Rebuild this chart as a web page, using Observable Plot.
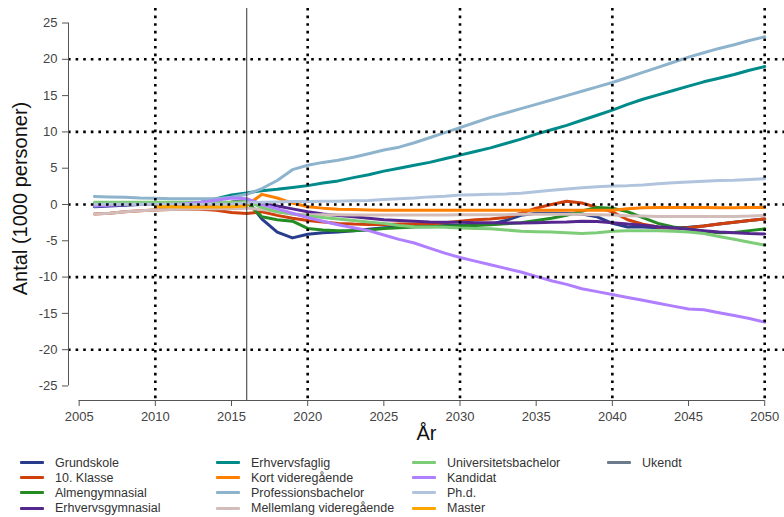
<!DOCTYPE html>
<html><head><meta charset="utf-8">
<script src="https://cdn.jsdelivr.net/npm/d3@7"></script>
<script src="https://cdn.jsdelivr.net/npm/@observablehq/plot@0.6"></script>
<style>
body{margin:0;background:#fff;font-family:"Liberation Sans",Arial,sans-serif;}
#wrap{position:relative;width:784px;height:517px;overflow:hidden;}
#chart{position:absolute;left:0;top:0;}
#legend{position:absolute;left:20px;top:455px;display:grid;grid-template-columns:196px 196px 195px 170px;grid-auto-flow:column;grid-template-rows:repeat(4,15.2px);}
.item{display:flex;align-items:center;font-size:12.5px;color:#333;height:15.2px;white-space:nowrap;}
.sw{width:24px;height:3px;margin-right:11px;border-radius:1px;}
</style></head><body>
<div id="wrap"><div id="chart"></div><div id="legend"></div></div>
<script>
const years = [2006,2007,2008,2009,2010,2011,2012,2013,2014,2015,2016,
  2017,2018,2019,2020,2021,2022,2023,2024,2025,2026,2027,2028,2029,2030,2031,2032,2033,
  2034,2035,2036,2037,2038,2039,2040,2041,2042,2043,2044,2045,2046,2047,2048,2049,2050];

const seriesNames = ["Grundskole","10. Klasse","Almengymnasial","Erhvervsgymnasial","Erhvervsfaglig",
  "Kort videregående","Professionsbachelor","Mellemlang videregående","Universitetsbachelor",
  "Kandidat","Ph.d.","Master","Ukendt"];
const seriesColors = ["#283C8C","#D0400B","#238B23","#54278F","#008B8B","#FF8000","#8DB4CC",
  "#D2BDBA","#7DCD78","#B07FFF","#B0C4DE","#FFA500","#6C7B8B"];

const grundskole = [-0.3,-0.2,-0.1,0.0,0.0,0.0,0.0,0.0,0.1,0.3,0.6,
  -2.0,-3.8,-4.6,-4.1,-3.9,-3.8,-3.6,-3.4,-3.2,-3.1,-3.0,-3.0,-2.9,-2.9,-2.8,-2.7,-2.2,
  -1.5,-1.2,-1.2,-1.25,-1.3,-1.7,-2.6,-3.1,-3.1,-3.2,-3.25,-3.15,-2.95,-2.7,-2.45,-2.2,-2.0];
const klasse10 = [-1.3,-1.2,-1.0,-0.85,-0.75,-0.7,-0.65,-0.65,-0.8,-1.1,-1.25,
  -1.0,-1.5,-1.9,-2.2,-2.4,-2.6,-2.7,-2.75,-2.75,-2.7,-2.7,-2.65,-2.5,-2.3,-2.1,-2.0,-1.8,
  -1.2,-0.5,0.0,0.45,0.2,-0.4,-1.0,-2.1,-2.7,-3.1,-3.25,-3.2,-2.95,-2.7,-2.45,-2.2,-2.0];
const almengym = [0.2,0.2,0.2,0.2,0.2,0.2,0.2,0.2,0.2,0.2,0.3,
  -1.7,-2.1,-2.3,-3.3,-3.5,-3.6,-3.6,-3.5,-3.3,-3.2,-3.1,-3.05,-3.0,-2.95,-2.9,-2.8,-2.65,
  -2.5,-2.2,-1.9,-1.5,-0.9,-0.4,-0.5,-1.0,-1.8,-2.6,-3.1,-3.4,-3.7,-3.9,-3.85,-3.6,-3.35];
const erhvervsgym = [-0.2,-0.1,0.0,0.0,0.0,0.0,0.0,0.0,0.1,0.3,0.5,
  0.2,-0.2,-0.6,-1.0,-1.3,-1.5,-1.7,-1.9,-2.1,-2.2,-2.3,-2.4,-2.45,-2.45,-2.5,-2.5,-2.55,
  -2.55,-2.5,-2.45,-2.4,-2.3,-2.35,-2.5,-2.7,-2.85,-3.05,-3.2,-3.4,-3.6,-3.8,-3.9,-4.0,-4.05];
const erhvervsfaglig = [-0.2,0.0,0.1,0.1,0.1,0.1,0.1,0.3,0.8,1.3,1.6,
  1.9,2.1,2.35,2.6,2.95,3.25,3.7,4.1,4.6,5.0,5.4,5.8,6.3,6.8,7.3,7.8,8.4,
  9.0,9.7,10.3,10.9,11.6,12.3,13.0,13.8,14.5,15.1,15.7,16.3,16.9,17.4,17.9,18.5,19.0];
const kortVid = [null,null,null,null,null,null,null,null,null,null,-0.1,
  1.4,0.9,0.2,-0.3,-0.5,-0.65,-0.7,-0.75,-0.8,-0.8,-0.8,-0.8,-0.8,-0.8,-0.8,-0.8,-0.8,
  -0.8,-0.8,-0.8,-0.8,-0.8,-0.8,-0.8,-0.6,-0.45,-0.4,-0.4,-0.4,-0.4,-0.45,-0.45,-0.4,-0.4];
const profBach = [1.1,1.05,1.0,0.9,0.85,0.8,0.8,0.8,0.8,1.0,1.4,
  2.2,3.3,4.8,5.4,5.8,6.1,6.5,7.0,7.5,7.9,8.5,9.2,9.9,10.6,11.3,12.0,12.6,
  13.2,13.8,14.4,15.0,15.6,16.2,16.8,17.5,18.2,18.9,19.6,20.3,20.9,21.5,22.0,22.6,23.1];
const mellemlang = [-1.3,-1.2,-1.0,-0.85,-0.75,-0.7,-0.65,-0.6,-0.6,-0.6,-0.5,
  -0.7,-1.0,-1.3,-1.4,-1.4,-1.4,-1.45,-1.45,-1.45,-1.45,-1.45,-1.45,-1.45,-1.4,-1.4,-1.4,-1.4,
  -1.35,-1.35,-1.35,-1.35,-1.35,-1.4,-1.45,-1.55,-1.6,-1.65,-1.65,-1.65,-1.65,-1.65,-1.65,-1.6,-1.5];
const univBach = [0.3,0.3,0.3,0.3,0.3,0.3,0.3,0.3,0.3,0.3,0.4,
  -0.4,-1.0,-1.3,-1.6,-1.8,-2.0,-2.2,-2.4,-2.6,-2.9,-3.05,-3.1,-3.15,-3.25,-3.3,-3.35,-3.5,
  -3.7,-3.75,-3.8,-3.9,-4.0,-3.9,-3.7,-3.6,-3.6,-3.6,-3.7,-3.8,-4.0,-4.4,-4.8,-5.2,-5.6];
const kandidat = [-0.2,-0.1,0.0,0.0,0.0,0.0,0.1,0.3,0.6,0.9,0.8,
  0.0,-0.6,-1.2,-1.8,-2.3,-2.8,-3.2,-3.6,-4.2,-4.8,-5.3,-6.0,-6.7,-7.3,-7.8,-8.3,-8.8,
  -9.3,-9.9,-10.5,-11.0,-11.6,-12.0,-12.4,-12.8,-13.2,-13.6,-14.0,-14.4,-14.5,-14.9,-15.3,-15.7,-16.2];
const phd = [0.05,0.05,0.05,0.05,0.05,0.05,0.05,0.05,0.05,0.05,0.2,
  0.3,0.35,0.4,0.4,0.45,0.45,0.5,0.55,0.7,0.8,0.9,1.05,1.15,1.3,1.35,1.4,1.45,
  1.55,1.75,1.95,2.15,2.3,2.45,2.55,2.6,2.7,2.85,3.0,3.1,3.2,3.3,3.35,3.45,3.55];
const master = [null,null,null,null,-0.3,-0.3,-0.35,-0.35,-0.35,-0.3,-0.2,
  null,null,null,null,null,null,null,null,null,null,null,null,null,null,null,null,null,
  null,null,null,null,null,null,null,null,null,null,null,null,null,null,null,null,null];
const ukendt = years.map(() => null);

const seriesValues = [grundskole,klasse10,almengym,erhvervsgym,erhvervsfaglig,kortVid,profBach,
  mellemlang,univBach,kandidat,phd,master,ukendt];

const xTicks = [2005,2010,2015,2020,2025,2030,2035,2040,2045,2050];
const yTicks = [-25,-20,-15,-10,-5,0,5,10,15,20,25];
const vGrid = [2010,2020,2030,2040,2050];
const hGrid = [-20,-10,0,10,20];
const forecastStart = 2016;

const data = [];
seriesNames.forEach((name, i) => {
  seriesValues[i].forEach((v, j) => {
    if (v !== null) data.push({series: name, year: years[j], value: v});
  });
});

const xDomain = [2004.3, 2051.3];
const dotted = {stroke: "black", strokeWidth: 2.6, strokeDasharray: "2.6,5"};

const chart = Plot.plot({
  width: 784,
  height: 450,
  marginLeft: 68,
  marginRight: 0,
  marginTop: 8,
  marginBottom: 50,
  style: {fontFamily: "'Liberation Sans', Arial, sans-serif", background: "white"},
  x: {domain: xDomain},
  y: {domain: [-27, 27]},
  color: {domain: seriesNames, range: seriesColors},
  marks: [
    Plot.line(data, {x: "year", y: "value", z: "series", stroke: "series",
      strokeWidth: 3, strokeLinejoin: "round", strokeLinecap: "round"}),
    Plot.ruleX(vGrid, dotted),
    Plot.ruleY(hGrid, dotted),
    Plot.ruleX([forecastStart], {stroke: "#333", strokeWidth: 1}),
    Plot.ruleX([xDomain[0]], {y1: yTicks[0], y2: yTicks[yTicks.length - 1], stroke: "#555", strokeWidth: 1}),
    Plot.ruleY([-27], {x1: xTicks[0], x2: xTicks[xTicks.length - 1], stroke: "#555", strokeWidth: 1}),
    Plot.axisY({ticks: yTicks, tickSize: 6, tickPadding: 5, fontSize: 13, color: "#444",
      stroke: "#555", tickFormat: d => String(d), label: null}),
    Plot.axisX({ticks: xTicks, tickSize: 6, tickPadding: 5, fontSize: 13, color: "#444",
      stroke: "#555", tickFormat: d => String(d), label: null}),
    Plot.text(["Antal (1000 personer)"], {frameAnchor: "left", textAnchor: "middle", dx: -48, dy: -6,
      rotate: -90, fontSize: 20, fill: "#111"}),
    Plot.text(["År"], {frameAnchor: "bottom", dy: 39, fontSize: 20, fill: "#111"})
  ]
});
document.getElementById("chart").appendChild(chart);

const legend = document.getElementById("legend");
seriesNames.forEach((name, i) => {
  const it = document.createElement("div");
  it.className = "item";
  const sw = document.createElement("span");
  sw.className = "sw";
  sw.style.background = seriesColors[i];
  const tx = document.createElement("span");
  tx.textContent = name;
  it.appendChild(sw); it.appendChild(tx);
  legend.appendChild(it);
});
</script>
</body></html>
